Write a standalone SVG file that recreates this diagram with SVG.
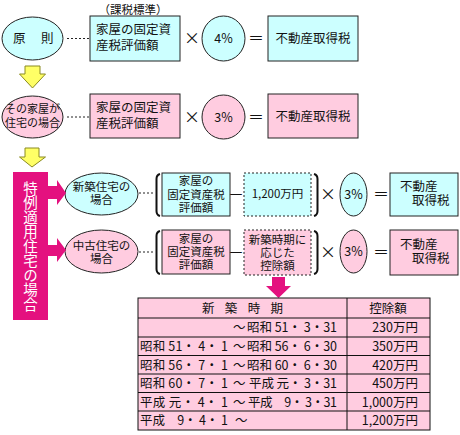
<svg xmlns="http://www.w3.org/2000/svg" width="460" height="435" viewBox="0 0 460 435">
<style>
text{font-family:"Noto Sans CJK JP","Noto Sans CJK SC",sans-serif;fill:#111;}
.t12{font-size:12.5px;}
.t11{font-size:11px;}
.s{font-size:11.5px;}
.c{text-anchor:middle;}
.cyan{fill:#ccffff;stroke:#222;stroke-width:1;}
.pink{fill:#ffcce0;stroke:#222;stroke-width:1;}
.dash{stroke-dasharray:2 2;}
.dot{stroke:#222;stroke-width:1;stroke-dasharray:2 2;fill:none;}
.yel{fill:#ffff66;stroke:#8a8a20;stroke-width:1;}
.mag{fill:#e4117f;}
.brk{fill:none;stroke:#111;stroke-width:2;}
.op{font-size:16px;text-anchor:middle;}
.tbl{fill:#ffcce0;stroke:#111;stroke-width:1;}
.tl{stroke:#111;stroke-width:1;}
</style>

<!-- Row 1 -->
<g id="label-kazei">
<text class="s c" x="133" y="14">（課税標準）</text>
</g>
<g id="gensoku">
<ellipse class="cyan" cx="32.5" cy="38.5" rx="30.5" ry="21.5"/>
<text class="t12" x="13" y="43">原</text><text class="t12" x="41" y="43">則</text>
</g>
<g id="box1">
<rect class="cyan" x="90" y="16" width="90" height="45"/>
<text class="t12" x="96" y="34">家屋の固定資</text>
<text class="t12" x="96" y="50">産税評価額</text>
</g>
<g id="rate1">
<ellipse class="cyan" cx="223.5" cy="38.5" rx="21.5" ry="22.5"/>
<text class="t12 c" x="223.5" y="43">4%</text>
</g>
<g id="result1">
<rect class="cyan" x="268" y="16" width="90" height="45"/>
<text class="t12 c" x="313" y="43">不動産取得税</text>
</g>

<!-- Row 2 -->
<g id="jutaku">
<ellipse class="pink" cx="32.5" cy="117" rx="30.5" ry="21"/>
<text class="t11 c" x="32.5" y="113">その家屋が</text>
<text class="t11 c" x="32.5" y="127">住宅の場合</text>
</g>
<g id="box2">
<rect class="pink" x="90" y="94" width="90" height="44"/>
<text class="t12" x="96" y="112">家屋の固定資</text>
<text class="t12" x="96" y="128">産税評価額</text>
</g>
<g id="rate2">
<ellipse class="pink" cx="223.5" cy="117" rx="21.5" ry="22"/>
<text class="t12 c" x="223.5" y="121.5">3%</text>
</g>
<g id="result2">
<rect class="pink" x="268" y="94" width="90" height="44"/>
<text class="t12 c" x="313" y="121">不動産取得税</text>
</g>

<!-- Special bar -->
<g id="tokurei">
<rect class="mag" x="13" y="172" width="35" height="148"/>
<text x="30.5" y="181" style="writing-mode:vertical-rl;text-orientation:upright;font-size:14.5px;fill:#ffffff;">特例適用住宅の場合</text>
</g>

<!-- Row 3 -->
<g id="shinchiku">
<ellipse class="cyan" cx="101.5" cy="194" rx="36.5" ry="21"/>
<text class="s c" x="101.5" y="191">新築住宅の</text>
<text class="s c" x="101.5" y="204">場合</text>
</g>
<g id="box3">
<rect class="cyan" x="162" y="173" width="68" height="43"/>
<text class="s c" x="196" y="185">家屋の</text>
<text class="s c" x="196" y="198.5">固定資産税</text>
<text class="s c" x="196" y="212">評価額</text>
</g>
<g id="deduct3">
<rect class="cyan dash" x="244" y="173" width="67" height="43"/>
<text class="s c" x="277.5" y="198">1,200万円</text>
</g>
<g id="rate3">
<ellipse class="cyan" cx="353.5" cy="194.5" rx="13.5" ry="21.5"/>
<text class="t12 c" x="353.5" y="199">3%</text>
</g>
<g id="result3">
<rect class="cyan" x="390" y="173" width="68" height="43"/>
<text class="t12" x="400" y="191">不動産</text>
<text class="t12" x="412" y="205">取得税</text>
</g>

<!-- Row 4 -->
<g id="chuko">
<ellipse class="pink" cx="101.5" cy="251.5" rx="36.5" ry="21.5"/>
<text class="s c" x="101.5" y="250">中古住宅の</text>
<text class="s c" x="101.5" y="263">場合</text>
</g>
<g id="box4">
<rect class="pink" x="162" y="230" width="68" height="44"/>
<text class="s c" x="196" y="243">家屋の</text>
<text class="s c" x="196" y="256">固定資産税</text>
<text class="s c" x="196" y="269">評価額</text>
</g>
<g id="deduct4">
<rect class="pink dash" x="244" y="230" width="67" height="45"/>
<text class="s c" x="277.5" y="244">新築時期に</text>
<text class="s c" x="277.5" y="257">応じた</text>
<text class="s c" x="277.5" y="270">控除額</text>
</g>
<g id="rate4">
<ellipse class="pink" cx="353.5" cy="251.5" rx="13.5" ry="21.5"/>
<text class="t12 c" x="353.5" y="256">3%</text>
</g>
<g id="result4">
<rect class="pink" x="390" y="230" width="68" height="45"/>
<text class="t12" x="400" y="249">不動産</text>
<text class="t12" x="412" y="263">取得税</text>
</g>

<!-- Operators -->
<g id="operators">
<text class="op" x="192" y="44">×</text>
<text class="op" x="256" y="44">＝</text>
<text class="op" x="192" y="123">×</text>
<text class="op" x="256" y="123">＝</text>
<text class="op" x="236" y="200">－</text>
<text class="op" x="328" y="200">×</text>
<text class="op" x="381" y="200">＝</text>
<text class="op" x="236" y="258">－</text>
<text class="op" x="328" y="258">×</text>
<text class="op" x="381" y="258">＝</text>
<path class="brk" d="M160,174 Q156.5,175 156.5,179 L156.5,211 Q156.5,215 160,216"/>
<path class="brk" d="M314,174 Q317.5,175 317.5,179 L317.5,211 Q317.5,215 314,216"/>
<path class="brk" d="M160,231 Q156.5,232 156.5,236 L156.5,269 Q156.5,273 160,274"/>
<path class="brk" d="M314,231 Q317.5,232 317.5,236 L317.5,269 Q317.5,273 314,274"/>
</g>

<!-- Connectors -->
<g id="connectors">
<line class="dot" x1="67" y1="38.5" x2="89" y2="38.5"/>
<line class="dot" x1="67" y1="117" x2="89" y2="117"/>
<line class="dot" x1="139" y1="193" x2="154" y2="193"/>
<line class="dot" x1="139" y1="252" x2="154" y2="252"/>
<path class="yel" d="M25,66 L40,66 L40,74 L45.5,74 L32.5,88 L19.5,74 L25,74 Z"/>
<path class="yel" d="M25,148 L39,148 L39,157 L45.5,157 L32,167 L19.5,157 L25,157 Z"/>
<path class="mag" d="M48,186 L57,186 L57,180 L66,193 L57,205 L57,199 L48,199 Z"/>
<path class="mag" d="M48,245 L57,245 L57,238 L66,250 L57,262 L57,256 L48,256 Z"/>
<path class="mag" d="M272,277 L285,277 L285,286 L291,286 L278.5,298 L266,286 L272,286 Z"/>
</g>

<!-- Table -->
<g id="table">
<rect class="tbl" x="138" y="298" width="292" height="132"/>
<line class="tl" x1="347" y1="298" x2="347" y2="430"/>
<line class="tl" x1="138" y1="318" x2="430" y2="318"/>
<line class="tl" x1="138" y1="337" x2="430" y2="337"/>
<line class="tl" x1="138" y1="355.5" x2="430" y2="355.5"/>
<line class="tl" x1="138" y1="374" x2="430" y2="374"/>
<line class="tl" x1="138" y1="392.5" x2="430" y2="392.5"/>
<line class="tl" x1="138" y1="411" x2="430" y2="411"/>
<text class="t12" x="202" y="313" textLength="81" lengthAdjust="spacing">新 築 時 期</text>
<text class="t12 c" x="388" y="313">控除額</text>
<text class="t12"><tspan x="233" y="332">～</tspan><tspan x="247" y="332" textLength="90" lengthAdjust="spacing">昭和 51・ 3・31</tspan></text>
<text class="t12"><tspan x="140" y="351" textLength="88" lengthAdjust="spacing">昭和 51・ 4・ 1</tspan><tspan x="233" y="351">～</tspan><tspan x="247" y="351" textLength="90" lengthAdjust="spacing">昭和 56・ 6・30</tspan></text>
<text class="t12"><tspan x="140" y="369.5" textLength="88" lengthAdjust="spacing">昭和 56・ 7・ 1</tspan><tspan x="233" y="369.5">～</tspan><tspan x="247" y="369.5" textLength="90" lengthAdjust="spacing">昭和 60・ 6・30</tspan></text>
<text class="t12"><tspan x="140" y="388" textLength="88" lengthAdjust="spacing">昭和 60・ 7・ 1</tspan><tspan x="233" y="388">～</tspan><tspan x="249" y="388" textLength="88" lengthAdjust="spacing">平成 元・ 3・31</tspan></text>
<text class="t12"><tspan x="140" y="406.5" textLength="88" lengthAdjust="spacing">平成 元・ 4・ 1</tspan><tspan x="233" y="406.5">～</tspan><tspan x="248" y="406.5" textLength="89" lengthAdjust="spacing">平成　9・ 3・31</tspan></text>
<text class="t12"><tspan x="140" y="425" textLength="88" lengthAdjust="spacing">平成　9・ 4・ 1</tspan><tspan x="235" y="425">～</tspan></text>
<text class="t12" x="418" y="332" text-anchor="end">230万円</text>
<text class="t12" x="418" y="351" text-anchor="end">350万円</text>
<text class="t12" x="418" y="369.5" text-anchor="end">420万円</text>
<text class="t12" x="418" y="388" text-anchor="end">450万円</text>
<text class="t12" x="418" y="406.5" text-anchor="end">1,000万円</text>
<text class="t12" x="418" y="425" text-anchor="end">1,200万円</text>
</g>
</svg>
